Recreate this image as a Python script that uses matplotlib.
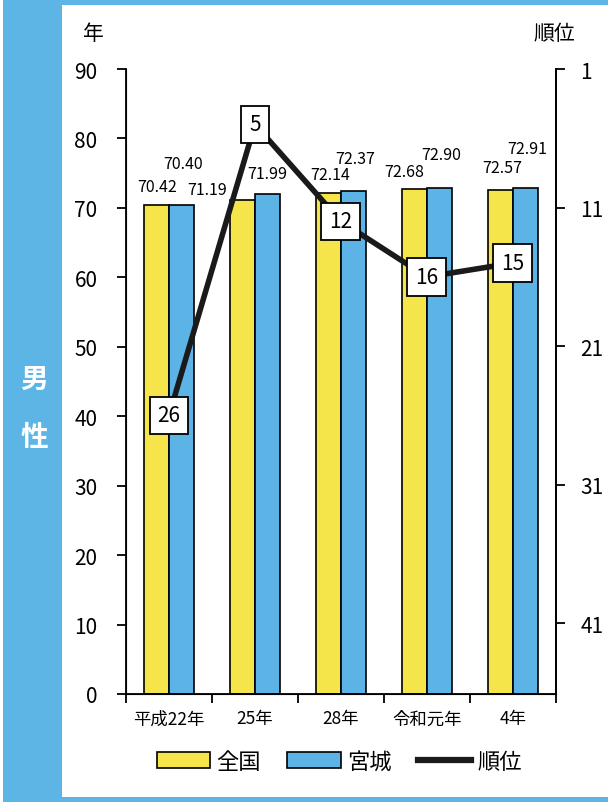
#!/usr/bin/env python3
"""Life expectancy (male): national vs Miyagi, with Miyagi's rank."""

import matplotlib.pyplot as plt
from matplotlib.lines import Line2D
from matplotlib.patches import Patch, Rectangle
import numpy as np

plt.rcParams["font.family"] = ["Noto Sans CJK JP", "DejaVu Sans"]

CATEGORIES = ["平成22年", "25年", "28年", "令和元年", "4年"]
NATIONAL = [70.42, 71.19, 72.14, 72.68, 72.57]
MIYAGI = [70.40, 71.99, 72.37, 72.90, 72.91]
RANK = [26, 5, 12, 16, 15]

# label placement (data units relative to bar top)
NAT_OFFSETS = [(0.005, 2.6), (-0.415, 1.4), (0.02, 2.7), (-0.115, 2.6), (0.015, 3.3)]
MIY_OFFSETS = [(0.02, 6.0), (0.0, 3.0), (0.015, 4.8), (0.015, 4.8), (0.025, 5.6)]

YELLOW = "#F5E54B"
BLUE = "#5BB4E5"
BAND = "#5DB5E6"

fig = plt.figure(figsize=(6.08, 8.03), dpi=100)

# frame: blue side band, top and bottom rules
fig.patches.append(Rectangle((0.005, 0), 0.097, 1, transform=fig.transFigure,
                             fc=BAND, ec="none", zorder=0))
fig.patches.append(Rectangle((0.005, 0.992), 0.995, 0.008, transform=fig.transFigure,
                             fc=BAND, ec="none", zorder=0))
fig.patches.append(Rectangle((0.005, 0.0), 0.995, 0.006, transform=fig.transFigure,
                             fc=BAND, ec="none", zorder=0))
fig.text(0.056, 0.527, "男", color="white", fontsize=20, fontweight="bold",
         ha="center", va="center")
fig.text(0.056, 0.455, "性", color="white", fontsize=20, fontweight="bold",
         ha="center", va="center")

ax = fig.add_axes([0.2072, 0.1345, 0.7072, 0.7783])
x = np.arange(len(CATEGORIES))
w = 0.29
ax.bar(x - w / 2, NATIONAL, w, color=YELLOW, edgecolor="black", linewidth=1.2, zorder=2)
ax.bar(x + w / 2, MIYAGI, w, color=BLUE, edgecolor="black", linewidth=1.2, zorder=2)

for i, (v, (dx, dy)) in enumerate(zip(NATIONAL, NAT_OFFSETS)):
    ax.text(i - w / 2 + dx, v + dy, f"{v:.2f}", ha="center", va="center",
            fontsize=11.5, zorder=3)
for i, (v, (dx, dy)) in enumerate(zip(MIYAGI, MIY_OFFSETS)):
    ax.text(i + w / 2 + dx, v + dy, f"{v:.2f}", ha="center", va="center",
            fontsize=11.5, zorder=3)

ax.set_xlim(-0.5, len(CATEGORIES) - 0.5)
ax.set_ylim(0, 90)
ax.set_yticks(range(0, 91, 10))
ax.set_xticks(np.arange(-0.5, len(CATEGORIES)))
ax.set_xticklabels([])
ax.set_xticks(x, minor=True)
ax.set_xticklabels(CATEGORIES, minor=True, fontsize=12.5)
ax.tick_params(axis="x", which="major", length=6.5, width=1.3, direction="out")
ax.tick_params(axis="x", which="minor", length=0, pad=11)
ax.tick_params(axis="y", length=6.5, width=1.3, labelsize=15, pad=14)
ax.spines["top"].set_visible(False)
for side in ("left", "bottom", "right"):
    ax.spines[side].set_linewidth(1.3)

ax2 = ax.twinx()
ax2.set_ylim(46.1, 1)
ax2.set_yticks([1, 11, 21, 31, 41])
ax2.tick_params(axis="y", length=6.5, width=1.3, labelsize=15, pad=11)
ax2.spines["top"].set_visible(False)
ax2.spines["right"].set_linewidth(1.3)
ax2.plot(x, RANK, color="#1a1a1a", linewidth=4, zorder=4)
for i, r in enumerate(RANK):
    ax2.text(i, r, str(r), ha="center", va="center", fontsize=15, zorder=5,
             bbox=dict(boxstyle="square,pad=0.38", fc="white", ec="black", lw=1.3))

fig.text(0.153, 0.958, "年", fontsize=15, ha="center", va="center")
fig.text(0.912, 0.958, "順位", fontsize=15, ha="center", va="center")

handles = [
    Patch(facecolor=YELLOW, edgecolor="black", linewidth=1.2),
    Patch(facecolor=BLUE, edgecolor="black", linewidth=1.2),
    Line2D([0], [0], color="#1a1a1a", linewidth=4.5),
]
fig.legend(handles, ["全国", "宮城", "順位"], loc="center", ncol=3,
           bbox_to_anchor=(0.558, 0.051), frameon=False, fontsize=16,
           handlelength=2.4, handleheight=0.72, handletextpad=0.27,
           columnspacing=1.2)

fig.savefig("out.png", dpi=100)
